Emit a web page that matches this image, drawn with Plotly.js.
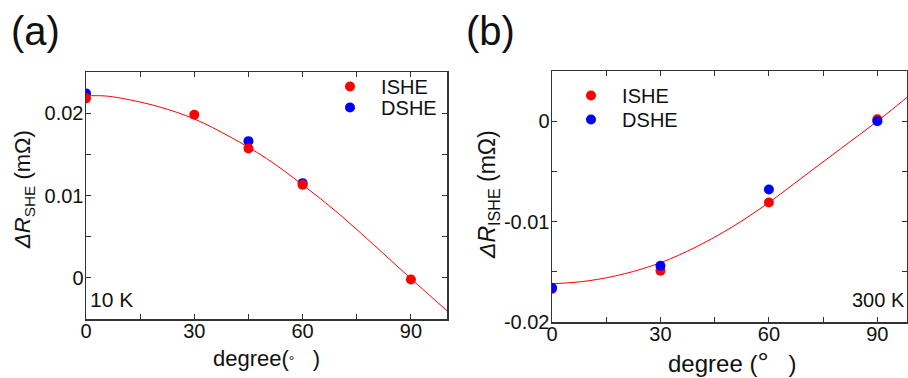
<!DOCTYPE html>
<html>
<head>
<meta charset="utf-8">
<script src="https://cdn.plot.ly/plotly-3.0.1.min.js"></script>
<style>
  html, body { margin: 0; padding: 0; background: #fff; }
  #chart { width: 908px; height: 378px; }
</style>
</head>
<body>
<div id="chart"></div>
<script>
// Measured angles (degrees)
const angles10K = [0, 30, 45, 60, 90];
const anglesDshe10K = [0, 45, 60];
const angles300K = [0, 30, 60, 90];

// Spin Hall resistance at 10 K (mΩ)
const ishe10K = [0.0218, 0.0198, 0.0157, 0.0113, -0.0002];
const dshe10K = [0.0224, 0.0166, 0.0115];

// Spin Hall resistance at 300 K (mΩ)
const ishe300K = [-0.0167, -0.0149, -0.0081, 0.0002];
const dshe300K = [-0.0166, -0.0144, -0.0068, 0.0000];

// Fitted curves
const fitAngles10K = [0, 5, 10, 20, 30, 40, 50, 60, 70, 80, 90, 100];
const fit10K = [0.0221, 0.0221, 0.0218, 0.0208, 0.0193, 0.0171, 0.0145, 0.0113, 0.0078, 0.0039, -0.0001, -0.0040];
const fitAngles300K = [0, 10, 20, 30, 40, 50, 60, 70, 80, 90, 100];
const fit300K = [-0.0162, -0.0159, -0.0152, -0.0141, -0.0125, -0.0105, -0.0081, -0.0054, -0.0027, 0.0000, 0.0029];

// Tick labels
const xTickVals = [0, 30, 60, 90];
const xTickText = ['0', '30', '60', '90'];
const yTickVals10K = [0, 0.01, 0.02];
const yTickText10K = ['0', '0.01', '0.02'];
const yTickVals300K = [-0.02, -0.01, 0];
const yTickText300K = ['-0.02', '-0.01', '0'];

const RED = '#ff0000';
const BLUE = '#0000ff';
const FONT = 'Liberation Sans, Arial, sans-serif';
const W = 908, H = 378;
const px = v => v / W;
const py = v => 1 - v / H;
const NB = '\u00a0\u00a0';

const traces = [
  // panel (a): 10 K
  { x: fitAngles10K, y: fit10K, mode: 'lines', line: { color: RED, width: 1, shape: 'spline' },
    xaxis: 'x', yaxis: 'y', showlegend: false, hoverinfo: 'skip' },
  { x: anglesDshe10K, y: dshe10K, mode: 'markers', name: NB + 'DSHE',
    marker: { color: BLUE, size: 10 }, xaxis: 'x', yaxis: 'y', legend: 'legend2' },
  { x: angles10K, y: ishe10K, mode: 'markers', name: NB + 'ISHE',
    marker: { color: RED, size: 10 }, xaxis: 'x', yaxis: 'y', legend: 'legend' },
  // panel (b): 300 K
  { x: fitAngles300K, y: fit300K, mode: 'lines', line: { color: RED, width: 1, shape: 'spline' },
    xaxis: 'x2', yaxis: 'y2', showlegend: false, hoverinfo: 'skip' },
  { x: angles300K, y: ishe300K, mode: 'markers', name: NB + 'ISHE',
    marker: { color: RED, size: 10 }, xaxis: 'x2', yaxis: 'y2', legend: 'legend3' },
  { x: angles300K, y: dshe300K, mode: 'markers', name: NB + 'DSHE',
    marker: { color: BLUE, size: 10 }, xaxis: 'x2', yaxis: 'y2', legend: 'legend4' }
];

const axisCommon = {
  showline: true, linecolor: '#333', linewidth: 1.5, mirror: 'allticks',
  ticks: 'inside', ticklen: 5, tickwidth: 1, tickcolor: '#333',
  showgrid: false, zeroline: false, tickmode: 'array',
  tickfont: { family: FONT, size: 20, color: '#111' }
};
const minorCommon = { ticks: 'inside', ticklen: 5, tickwidth: 1, tickcolor: '#333', tickmode: 'linear', showgrid: false };

const legendAt = (x, y) => ({
  bgcolor: 'rgba(0,0,0,0)', borderwidth: 0,
  font: { family: FONT, size: 20, color: '#111' },
  xanchor: 'left', yanchor: 'top', x: px(x), y: py(y)
});

const ann = (text, x, y, size, extra) => Object.assign({
  text: text, x: px(x), y: py(y), xref: 'paper', yref: 'paper', showarrow: false,
  xanchor: 'center', yanchor: 'middle', font: { family: FONT, size: size, color: '#111' }
}, extra || {});

const layout = {
  width: W, height: H,
  margin: { l: 0, r: 0, t: 0, b: 0 },
  paper_bgcolor: '#fff', plot_bgcolor: '#fff',
  font: { family: FONT, color: '#111' },
  xaxis: Object.assign({}, axisCommon, {
    domain: [px(86), px(447)], range: [0, 100], anchor: 'y',
    tickvals: xTickVals, ticktext: xTickText, ticklabelstandoff: -7,
    minor: Object.assign({}, minorCommon, { tick0: 0, dtick: 15 })
  }),
  yaxis: Object.assign({}, axisCommon, {
    domain: [py(319), py(72)], range: [-0.005, 0.025], anchor: 'x',
    tickvals: yTickVals10K, ticktext: yTickText10K, ticklabelstandoff: -3,
    minor: Object.assign({}, minorCommon, { tick0: 0, dtick: 0.005 })
  }),
  xaxis2: Object.assign({}, axisCommon, {
    domain: [px(552), px(907)], range: [0, 98.2], anchor: 'y2',
    tickvals: xTickVals, ticktext: xTickText, ticklabelstandoff: -7,
    minor: Object.assign({}, minorCommon, { tick0: 0, dtick: 15 })
  }),
  yaxis2: Object.assign({}, axisCommon, {
    domain: [py(322), py(71)], range: [-0.02, 0.005], anchor: 'x2',
    tickvals: yTickVals300K, ticktext: yTickText300K, ticklabelstandoff: -3,
    minor: Object.assign({}, minorCommon, { tick0: 0, dtick: 0.005 })
  }),
  legend: legendAt(330, 67),
  legend2: legendAt(330, 88),
  legend3: legendAt(571, 76),
  legend4: legendAt(571, 100),
  annotations: [
    ann('(a)', 35, 31, 40),
    ann('(b)', 490, 31, 40),
    ann('<i>ΔR</i><sub>SHE</sub> (mΩ)', 24, 190, 22, { textangle: -90 }),
    ann('<i>ΔR</i><sub>ISHE</sub> (mΩ)', 488, 194, 23, { textangle: -90 }),
    ann('degree(<span style="font-size:14px">°</span>\u00a0\u00a0\u00a0)', 266, 358, 22),
    ann('degree (<span style="font-size:28px">°</span>\u00a0\u00a0\u00a0)', 732, 362, 24),
    ann('10 K', 88, 299, 21, { xanchor: 'left' }),
    ann('300 K', 907, 300, 20, { xanchor: 'right' })
  ]
};

Plotly.newPlot('chart', traces, layout, { staticPlot: true, displayModeBar: false });
</script>
</body>
</html>
